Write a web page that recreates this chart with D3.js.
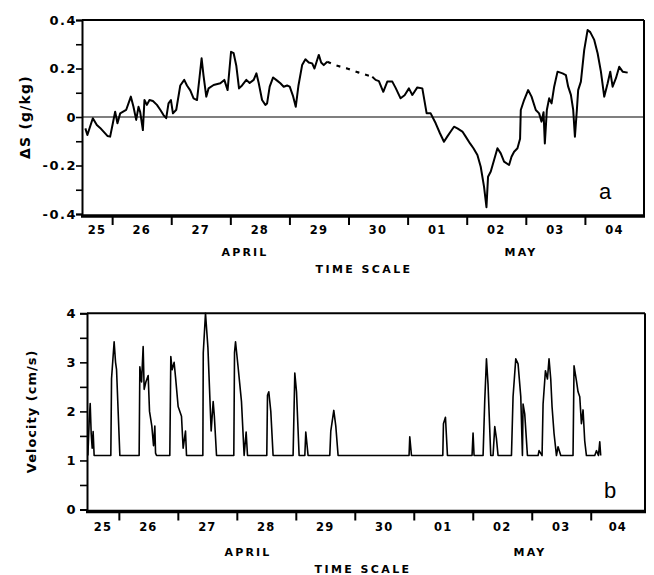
<!DOCTYPE html>
<html><head><meta charset="utf-8">
<script src="https://cdn.jsdelivr.net/npm/d3@7"></script>
<style>
body{margin:0;background:#fff;}
svg{display:block;font-family:"DejaVu Sans",sans-serif;}
</style></head>
<body><svg id="c" width="654" height="575"></svg>
<script>
// time in days since 25 April 00:00
const dayLabels = ["25","26","27","28","29","30","01","02","03","04"];
const dayTicks = [1,2,3,4,5,6,7,8,9];
const yTicksA = [-0.4,-0.2,0,0.2,0.4];
const yTickLabelsA = ["-0.4","-0.2","0","0.2","0.4"];
const yMinorA = [-0.3,-0.1,0.1,0.3];
const yTicksB = [0,1,2,3,4];
const yTickLabelsB = ["0","1","2","3","4"];
const yMinorB = [0.5,1.5,2.5,3.5];

// Panel a: salinity anomaly (solid)
const salTime = [0.547,0.581,0.673,0.741,0.797,0.920,0.966,1.012,1.051,1.090,1.136,1.237,1.317,1.361,1.407,1.446,1.475,1.520,1.547,1.588,1.632,1.690,1.758,1.814,1.869,1.915,1.954,1.995,2.029,2.085,2.153,2.220,2.266,2.322,2.378,2.436,2.480,2.514,2.547,2.593,2.632,2.717,2.831,2.898,2.954,3.012,3.056,3.102,3.147,3.198,3.271,3.327,3.395,3.441,3.480,3.537,3.593,3.622,3.666,3.724,3.792,3.847,3.903,3.961,4.005,4.063,4.107,4.153,4.215,4.271,4.327,4.385,4.424,4.469,4.497,4.537,4.581,4.639,
 null,
 5.402,5.458,5.514,5.588,5.656,5.741,5.797,5.881,5.949,6.022,6.080,6.164,6.249,6.322,6.390,6.475,6.547,6.615,6.673,6.729,6.785,6.842,6.927,6.983,7.056,7.114,7.181,7.237,7.293,7.334,7.361,7.407,7.463,7.520,7.576,7.632,7.717,7.758,7.802,7.859,7.903,7.915,7.971,8.039,8.097,8.169,8.225,8.266,8.300,8.322,8.356,8.395,8.436,8.480,8.537,8.622,8.678,8.717,8.763,8.802,8.831,8.864,8.886,8.932,8.988,9.046,9.090,9.158,9.215,9.271,9.327,9.385,9.429,9.469,9.525,9.581,9.639,9.724];
const salValue = [-0.047,-0.074,-0.005,-0.033,-0.045,-0.078,-0.081,-0.026,0.022,-0.026,0.015,0.029,0.084,0.042,-0.012,0.042,0.020,-0.054,0.070,0.050,0.070,0.066,0.050,0.030,0.008,-0.005,0.056,0.070,0.015,0.030,0.130,0.153,0.130,0.110,0.077,0.070,0.166,0.242,0.170,0.084,0.118,0.132,0.139,0.153,0.111,0.269,0.263,0.210,0.118,0.130,0.153,0.140,0.153,0.180,0.140,0.070,0.050,0.056,0.125,0.163,0.150,0.139,0.125,0.130,0.125,0.085,0.042,0.130,0.214,0.238,0.225,0.221,0.200,0.235,0.256,0.225,0.214,0.228,
 null,
 0.166,0.153,0.148,0.104,0.146,0.146,0.120,0.077,0.090,0.118,0.091,0.122,0.118,0.015,0.015,-0.026,-0.067,-0.102,-0.080,-0.060,-0.040,-0.047,-0.060,-0.081,-0.109,-0.129,-0.157,-0.205,-0.287,-0.372,-0.246,-0.225,-0.177,-0.129,-0.150,-0.184,-0.198,-0.164,-0.143,-0.129,-0.090,0.029,0.070,0.111,0.084,0.029,0.015,-0.019,0.020,-0.109,0.029,0.077,0.056,0.125,0.187,0.180,0.173,0.125,0.091,0.029,-0.081,0.029,0.111,0.146,0.276,0.359,0.350,0.318,0.263,0.187,0.084,0.139,0.187,0.125,0.160,0.207,0.187,0.183];
// Panel a: interpolated gap (dashed)
const gapTime = [4.639,4.780,4.978,5.164,5.402];
const gapValue = [0.228,0.214,0.200,0.184,0.166];

// Panel b: velocity
const velTime = [0.475,0.497,0.514,0.531,0.548,0.564,0.581,0.864,0.876,0.920,0.944,0.961,1.017,1.344,1.356,1.385,1.412,1.429,1.458,1.497,1.520,1.559,1.588,1.610,1.622,1.639,1.864,1.881,1.903,1.937,1.961,2.005,2.062,2.090,2.130,2.147,2.424,2.431,2.469,2.510,2.565,2.599,2.619,2.656,2.949,2.961,2.978,3.022,3.079,3.124,3.158,3.181,3.508,3.520,3.542,3.576,3.615,3.954,3.983,4.012,4.056,4.153,4.169,4.208,4.576,4.593,4.644,4.678,4.717,5.920,5.932,5.961,6.492,6.503,6.537,6.571,6.988,7.005,7.022,7.175,7.203,7.232,7.259,7.305,7.344,7.373,7.401,7.429,7.656,7.683,7.729,7.768,7.814,7.842,7.853,7.881,7.927,8.107,8.124,8.175,8.192,8.232,8.266,8.293,8.322,8.344,8.378,8.419,8.446,8.492,8.700,8.717,8.758,8.785,8.814,8.842,8.870,8.898,8.927,9.068,9.097,9.131,9.153,9.169];
const velValue = [1.1,1.8,2.16,1.55,1.25,1.59,1.1,1.1,2.67,3.42,3.0,2.85,1.1,1.1,2.91,2.6,3.32,2.45,2.6,2.73,2.0,1.7,1.3,1.7,1.15,1.1,1.1,3.12,2.85,3.0,2.7,2.1,1.9,1.25,1.6,1.1,1.1,3.19,4.0,3.3,1.6,2.2,1.9,1.1,1.1,3.2,3.42,2.9,2.2,1.1,1.58,1.1,1.1,2.33,2.4,2.0,1.1,1.1,2.78,2.4,1.1,1.1,1.58,1.1,1.1,1.6,2.02,1.7,1.1,1.1,1.48,1.1,1.1,1.75,1.88,1.1,1.1,1.56,1.1,1.1,2.21,3.07,2.55,1.1,1.1,1.69,1.45,1.1,1.1,2.3,3.07,2.97,2.3,1.1,2.15,1.95,1.1,1.1,1.2,1.1,2.15,2.83,2.66,3.07,2.66,2.1,1.55,1.1,1.28,1.1,1.1,2.93,2.62,2.4,2.3,1.75,2.03,1.4,1.1,1.1,1.2,1.1,1.38,1.1];

const svg = d3.select("#c");
const FONT = "DejaVu Sans, sans-serif";

function panel(opt){
  const {x, y, yTicks, yLabels, yMinor, labelGap, title, titleX, titleSize, titleSpacing, letter, letterX, letterY, labelY, aprilX, mayX, monthY, tsX, tsY, tickLen} = opt;
  const [x0,x1] = x.range();
  const [yb,yt] = y.range();
  const g = svg.append("g");
  g.append("line").attr("x1",x0).attr("x2",x1).attr("y1",yt).attr("y2",yt).attr("stroke","#000").attr("stroke-width",2);
  g.append("line").attr("x1",x1).attr("x2",x1).attr("y1",yt).attr("y2",yb+2).attr("stroke","#000").attr("stroke-width",2);
  const ya = d3.axisLeft(y).tickValues(yTicks).tickSize(tickLen).tickFormat("");
  const ag = g.append("g").attr("transform",`translate(${x0},0)`).call(ya);
  ag.select(".domain").attr("stroke-width",2);
  ag.selectAll(".tick line").attr("stroke-width",1.6);
  g.selectAll(".yl").data(yTicks).join("text")
    .attr("x",x0-tickLen-labelGap).attr("y",d=>y(d)).attr("dy","0.36em")
    .attr("text-anchor","end").attr("font-family",FONT)
    .attr("font-size",13).attr("font-weight","bold").attr("letter-spacing",1.5)
    .text((d,i)=>yLabels[i]);
  const am = d3.axisLeft(y).tickValues(yMinor).tickSize(tickLen).tickFormat("");
  const amg = g.append("g").attr("transform",`translate(${x0},0)`).call(am);
  amg.select(".domain").remove();
  amg.selectAll(".tick line").attr("stroke-width",1.6);
  g.append("line").attr("x1",x0-1).attr("x2",x1+1).attr("y1",yb+2).attr("y2",yb+2).attr("stroke","#000").attr("stroke-width",3.5);
  const xa = d3.axisBottom(x).tickValues(dayTicks).tickSize(8).tickFormat("");
  const xg = g.append("g").attr("transform",`translate(0,${yb+3})`).call(xa);
  xg.select(".domain").remove();
  xg.selectAll(".tick line").attr("stroke-width",2);
  const [d0,d1] = x.domain();
  g.selectAll(".dl").data(dayLabels).join("text")
    .attr("x",(d,i)=>x((Math.max(i,d0)+Math.min(i+1,d1))/2))
    .attr("y",labelY).attr("text-anchor","middle")
    .attr("font-size",11.5).attr("font-weight","bold").attr("letter-spacing",1.2).text(d=>d);
  g.append("text").attr("x",aprilX).attr("y",monthY).attr("text-anchor","middle").attr("font-size",11).attr("font-weight","bold").attr("letter-spacing",2.2).text("APRIL");
  g.append("text").attr("x",mayX).attr("y",monthY).attr("text-anchor","middle").attr("font-size",11).attr("font-weight","bold").attr("letter-spacing",2.2).text("MAY");
  g.append("text").attr("x",tsX).attr("y",tsY).attr("text-anchor","middle").attr("font-size",11).attr("font-weight","bold").attr("letter-spacing",2.4).text("TIME SCALE");
  g.append("text").attr("transform",`translate(${titleX},${(yb+yt)/2}) rotate(-90)`).attr("text-anchor","middle")
    .attr("font-size",titleSize).attr("font-weight","bold").attr("letter-spacing",titleSpacing).text(title);
  g.append("text").attr("x",letterX).attr("y",letterY).attr("text-anchor","middle").attr("font-family","Liberation Sans, Arial, sans-serif").attr("font-size",22).text(letter);
  return g;
}

// Panel a
const xA = d3.scaleLinear().domain([0.49,10.0]).range([82,644]);
const yA = d3.scaleLinear().domain([-0.4,0.4]).range([214,20]);
const gA = panel({x:xA,y:yA,yTicks:yTicksA,yLabels:yTickLabelsA,yMinor:yMinorA,labelGap:-1,
  title:"ΔS (g/kg)",titleX:30,titleSize:14,titleSpacing:1.2,letter:"a",letterX:605,letterY:199,labelY:234,aprilX:245,mayX:521,monthY:256,tsX:364,tsY:273,tickLen:6});
gA.append("line").attr("x1",xA.range()[0]).attr("x2",xA.range()[1]).attr("y1",yA(0)).attr("y2",yA(0)).attr("stroke","#000").attr("stroke-width",1.2);
const salData = salTime.map((t,i)=>({t, v:salValue[i]}));
gA.append("path").datum(salData)
  .attr("d",d3.line().defined(d=>d.t!==null).x(d=>xA(d.t)).y(d=>yA(d.v)))
  .attr("fill","none").attr("stroke","#000").attr("stroke-width",2).attr("stroke-linejoin","round");
const gapData = gapTime.map((t,i)=>({t, v:gapValue[i]}));
gA.append("path").datum(gapData)
  .attr("d",d3.line().curve(d3.curveMonotoneX).x(d=>xA(d.t)).y(d=>yA(d.v)))
  .attr("fill","none").attr("stroke","#000").attr("stroke-width",2.2).attr("stroke-dasharray","4,6");

// Panel b
const xB = d3.scaleLinear().domain([0.46,9.92]).range([87,645]);
const yB = d3.scaleLinear().domain([0,4]).range([509.5,313.3]);
const gB = panel({x:xB,y:yB,yTicks:yTicksB,yLabels:yTickLabelsB,yMinor:yMinorB,labelGap:3,
  title:"Velocity (cm/s)",titleX:36,titleSize:13,titleSpacing:1,letter:"b",letterX:610,letterY:498,labelY:531,aprilX:248,mayX:530,monthY:556,tsX:363,tsY:573,tickLen:7});
const velData = velTime.map((t,i)=>({t, v:velValue[i]}));
gB.append("path").datum(velData)
  .attr("d",d3.line().x(d=>xB(d.t)).y(d=>yB(d.v)))
  .attr("fill","none").attr("stroke","#000").attr("stroke-width",1.6).attr("stroke-linejoin","round");
</script></body></html>
